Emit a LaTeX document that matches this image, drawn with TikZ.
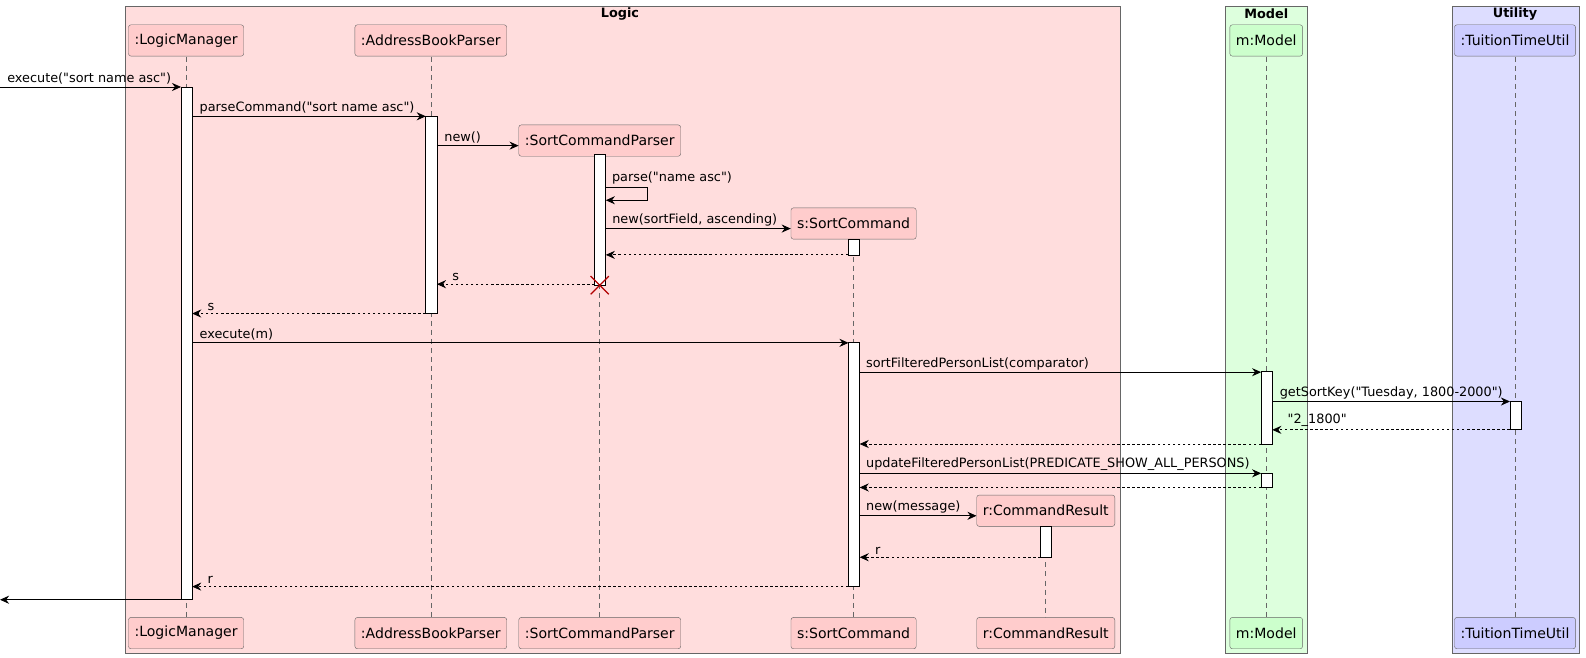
\documentclass[tikz,border=0pt]{standalone}
\usepackage{fontspec}
\setmainfont{DejaVu Sans}
\usetikzlibrary{arrows.meta}
\newcommand\qq{\textquotedbl}
\begin{document}
\begin{tikzpicture}[x=1pt,y=-1pt,
  every node/.style={font=\fontsize{12.7}{15}\selectfont},
  grp/.style={draw=black!60,line width=0.6pt},
  part/.style={draw=black!60,rounded corners=2.5pt,minimum height=31pt,inner xsep=6pt,font=\fontsize{13.9}{16}\selectfont},
  pl/.style={part,fill={rgb,255:red,255;green,204;blue,204}},
  pm/.style={part,fill={rgb,255:red,204;green,255;blue,204}},
  pu/.style={part,fill={rgb,255:red,204;green,204;blue,255}},
  life/.style={black!60,dash pattern=on 5pt off 4pt,line width=0.5pt},
  act/.style={draw=black,fill=white,line width=0.7pt},
  msg/.style={-{Stealth[length=9pt,width=8pt,inset=3pt]},line width=0.8pt},
  ret/.style={msg,dash pattern=on 2.5pt off 2.5pt},
  lab/.style={above,inner sep=2pt}]
\useasboundingbox (0,0) rectangle (1568.2,650.6);
% groups
\draw[grp,fill={rgb,255:red,255;green,221;blue,221}] (124,6) rectangle (1108,646);
\draw[grp,fill={rgb,255:red,221;green,255;blue,221}] (1212,6) rectangle (1293,646);
\draw[grp,fill={rgb,255:red,221;green,221;blue,255}] (1436,6) rectangle (1562,646);
\node[font=\bfseries\fontsize{12.7}{15}\selectfont] (gl) at (613,14) {Logic};
\node[font=\bfseries\fontsize{12.7}{15}\selectfont] (gm) at (1252,14) {Model};
\node[font=\bfseries\fontsize{12.7}{15}\selectfont] (gu) at (1498,14) {Utility};
% lifelines
\foreach \x/\a/\b in {184/56/611,426/56/611,593/155/611,844/236/611,1034/520/611,1252/56/611,1498/56/611}
  \draw[life] (\x,\a) -- (\x,\b);
% participants
\node[pl] (lm) at (184,40) {:LogicManager};
\node[pl] (abp) at (426,40) {:AddressBookParser};
\node[pl] (scp) at (593,139) {:SortCommandParser};
\node[pl] (sc) at (844,221) {s:SortCommand};
\node[pl] (cr) at (1034,505) {r:CommandResult};
\node[pm] (mm) at (1252,40) {m:Model};
\node[pu] (tt) at (1498,40) {:TuitionTimeUtil};
\node[pl] (lm2) at (184,626) {:LogicManager};
\node[pl] (abp2) at (426,626) {:AddressBookParser};
\node[pl] (scp2) at (593,626) {:SortCommandParser};
\node[pl] (sc2) at (844,626) {s:SortCommand};
\node[pl] (cr2) at (1034,626) {r:CommandResult};
\node[pm] (mm2) at (1252,626) {m:Model};
\node[pu] (tt2) at (1498,626) {:TuitionTimeUtil};
% activations
\draw[act] (179,86) rectangle (190,593);
\draw[act] (421,115) rectangle (432,310);
\draw[act] (588,153) rectangle (599,282);
\draw[act] (839,237) rectangle (850,252);
\draw[act] (839,339) rectangle (850,580);
\draw[act] (1247,367) rectangle (1258,439);
\draw[act] (1247,468) rectangle (1258,482);
\draw[act] (1493,397) rectangle (1504,425);
\draw[act] (1029,520) rectangle (1040,551);
% destroy
\draw[red!70!black,line width=1.2pt] (584,273) -- (602,291) (584,291) -- (602,273);
% messages
\coordinate (in) at (0,86); \coordinate (out) at (0,593);
\draw[msg] (in) -- (179,86);
\node[anchor=south west,inner sep=2pt] (l0) at (5,85) {execute(\qq sort name asc\qq)};
\draw[msg] (190,115) -- node[lab,anchor=south west,pos=0,xshift=5pt]{parseCommand(\qq sort name asc\qq)} (421,115);
\draw[msg] (432,144) -- node[lab,anchor=south west,pos=0,xshift=5pt]{new()} (scp.west|-0,144);
\draw[msg] (599,185) -- (640,185) -- (640,198) -- (599,198);
\node[anchor=south west,inner sep=2pt] (pl1) at (603,184) {parse(\qq name asc\qq)};
\draw[msg] (599,226) -- node[lab,anchor=south west,pos=0,xshift=4pt]{new(sortField, ascending)} (sc.west|-0,226);
\draw[ret] (839,252) -- (599,252);
\draw[ret] (588,281) -- (432,281);
\node[anchor=south west,inner sep=2pt] at (445,280) {s};
\draw[ret] (421,310) -- (190,310);
\node[anchor=south west,inner sep=2pt] at (203,309) {s};
\draw[msg] (190,339) -- node[lab,anchor=south west,pos=0,xshift=5pt]{execute(m)} (839,339);
\draw[msg] (850,368) -- node[lab,anchor=south west,pos=0,xshift=4pt]{sortFilteredPersonList(comparator)} (1247,368);
\draw[msg] (1258,397) -- node[lab,anchor=south west,pos=0,xshift=5pt]{getSortKey(\qq Tuesday, 1800-2000\qq)} (1493,397);
\draw[ret] (1493,425) -- (1258,425);
\node[anchor=south west,inner sep=2pt] at (1271,424) {\qq 2\_1800\qq};
\draw[ret] (1247,439) -- (850,439);
\draw[msg] (850,468) -- node[lab,anchor=south west,pos=0,xshift=4pt]{updateFilteredPersonList(PREDICATE\_SHOW\_ALL\_PERSONS)} (1247,468);
\draw[ret] (1247,482) -- (850,482);
\draw[msg] (850,510) -- node[lab,anchor=south west,pos=0,xshift=4pt]{new(message)} (cr.west|-0,510);
\draw[ret] (1029,551) -- (850,551);
\node[anchor=south west,inner sep=2pt] at (863,550) {r};
\draw[ret] (839,580) -- (190,580);
\node[anchor=south west,inner sep=2pt] at (203,579) {r};
\draw[msg] (179,593) -- (out);
\end{tikzpicture}
\end{document}
